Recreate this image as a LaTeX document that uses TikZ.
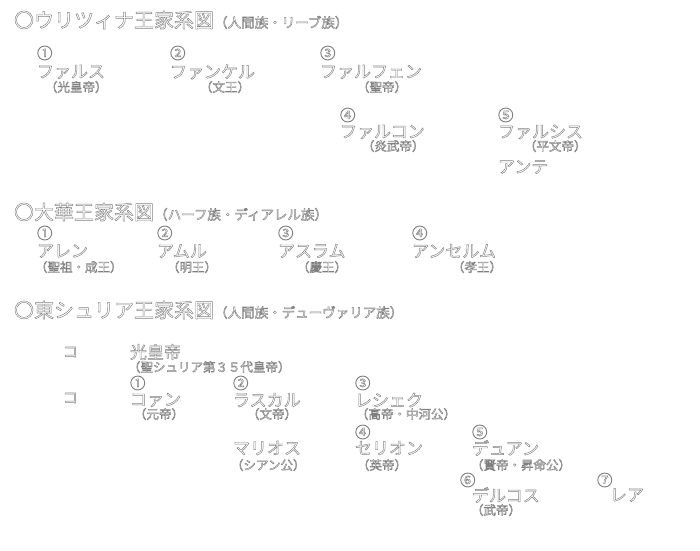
\documentclass[tikz,border=0pt]{standalone}
\usepackage{fontspec}
\setmainfont{Noto Sans CJK JP}
\newcommand\hol[1]{{\color{white}\special{pdf:literal direct 0.5 G 2 Tr 0.45 w}#1\special{pdf:literal direct 0 Tr}}}
\tikzset{
  base/.style={anchor=west, inner sep=0pt, outer sep=0pt},
  ttl/.style={base, font=\fontsize{20}{20}\selectfont},
  ttls/.style={anchor=base west, inner sep=0pt, font=\fontsize{13.5}{13.5}\selectfont},
  num/.style={base, font=\fontsize{15.5}{15.5}\selectfont},
  nm/.style={base, font=\fontsize{17}{17}\selectfont},
  sub/.style={base, font=\fontsize{12.5}{12.5}\selectfont},
  markbox/.style={base, font=\fontsize{15}{15}\selectfont},
}
\begin{document}
\begin{tikzpicture}[x=1pt,y=-1pt]
\useasboundingbox (0,0) rectangle (700,550);
% Section 1
\node[ttl] (t1) at (14,20) {\hol{〇ウリツィナ王家系図}};
\node[ttls] (t1s) at (t1.base east) {\hol{（人間族・リーブ族）}};
\node[num] (a1n) at (37,53) {\hol{①}};
\node[nm] (a1) at (37,72) {\hol{ファルス}};
\node[sub] (a1s) at (45,87) {\hol{（光皇帝）}};
\node[num] (a2n) at (170,53) {\hol{②}};
\node[nm] (a2) at (170,72) {\hol{ファンケル}};
\node[sub] (a2s) at (200,87) {\hol{（文王）}};
\node[num] (a3n) at (320,53) {\hol{③}};
\node[nm] (a3) at (320,72) {\hol{ファルフェン}};
\node[sub] (a3s) at (357,87) {\hol{（聖帝）}};
\node[num] (a4n) at (340,115) {\hol{④}};
\node[nm] (a4) at (340,132) {\hol{ファルコン}};
\node[sub] (a4s) at (362,146) {\hol{（炎武帝）}};
\node[num] (a5n) at (498,115) {\hol{⑤}};
\node[nm] (a5) at (498,132) {\hol{ファルシス}};
\node[sub] (a5s) at (524,146) {\hol{（平文帝）}};
\node[nm] (a6) at (498,167) {\hol{アンテ}};
% Section 2
\node[ttl] (t2) at (14,212) {\hol{〇大華王家系図}};
\node[ttls] (t2s) at (t2.base east) {\hol{（ハーフ族・ディアレル族）}};
\node[num] (b1n) at (37,233) {\hol{①}};
\node[nm] (b1) at (37,251) {\hol{アレン}};
\node[sub] (b1s) at (35,267) {\hol{（聖祖・成王）}};
\node[num] (b2n) at (157,233) {\hol{②}};
\node[nm] (b2) at (157,251) {\hol{アムル}};
\node[sub] (b2s) at (167,267) {\hol{（明王）}};
\node[num] (b3n) at (278,233) {\hol{③}};
\node[nm] (b3) at (278,251) {\hol{アスラム}};
\node[sub] (b3s) at (297,267) {\hol{（慶王）}};
\node[num] (b4n) at (412,233) {\hol{④}};
\node[nm] (b4) at (412,251) {\hol{アンセルム}};
\node[sub] (b4s) at (452,267) {\hol{（孝王）}};
% Section 3
\node[ttl] (t3) at (14,310) {\hol{〇東シュリア王家系図}};
\node[ttls] (t3s) at (t3.base east) {\hol{（人間族・デューヴァリア族）}};
\node[markbox] (m1) at (63,352) {\hol{コ}};
\node[markbox] (m2) at (63,398) {\hol{コ}};
\node[nm] (c0) at (130,352) {\hol{光皇帝}};
\node[sub] (c0s) at (128,367) {\hol{（聖シュリア第３５代皇帝）}};
\node[num] (c1n) at (130,383) {\hol{①}};
\node[nm] (c1) at (130,400) {\hol{コァン}};
\node[sub] (c1s) at (134,414) {\hol{（元帝）}};
\node[num] (c2n) at (233,383) {\hol{②}};
\node[nm] (c2) at (233,400) {\hol{ラスカル}};
\node[sub] (c2s) at (247,414) {\hol{（文帝）}};
\node[num] (c3n) at (355,383) {\hol{③}};
\node[nm] (c3) at (355,400) {\hol{レシェク}};
\node[sub] (c3s) at (356,414) {\hol{（高帝・中河公）}};
\node[nm] (cm) at (233,448) {\hol{マリオス}};
\node[sub] (cms) at (231,465) {\hol{（シアン公）}};
\node[num] (c4n) at (355,432) {\hol{④}};
\node[nm] (c4) at (355,448) {\hol{セリオン}};
\node[sub] (c4s) at (357,465) {\hol{（英帝）}};
\node[num] (c5n) at (472,432) {\hol{⑤}};
\node[nm] (c5) at (472,448) {\hol{デュアン}};
\node[sub] (c5s) at (471,465) {\hol{（賢帝・昇命公）}};
\node[num] (c6n) at (460,480) {\hol{⑥}};
\node[nm] (c6) at (472,495) {\hol{デルコス}};
\node[sub] (c6s) at (471,510) {\hol{（武帝）}};
\node[num] (c7n) at (597,480) {\hol{⑦}};
\node[nm] (c7) at (610,495) {\hol{レア}};
\end{tikzpicture}
\end{document}
